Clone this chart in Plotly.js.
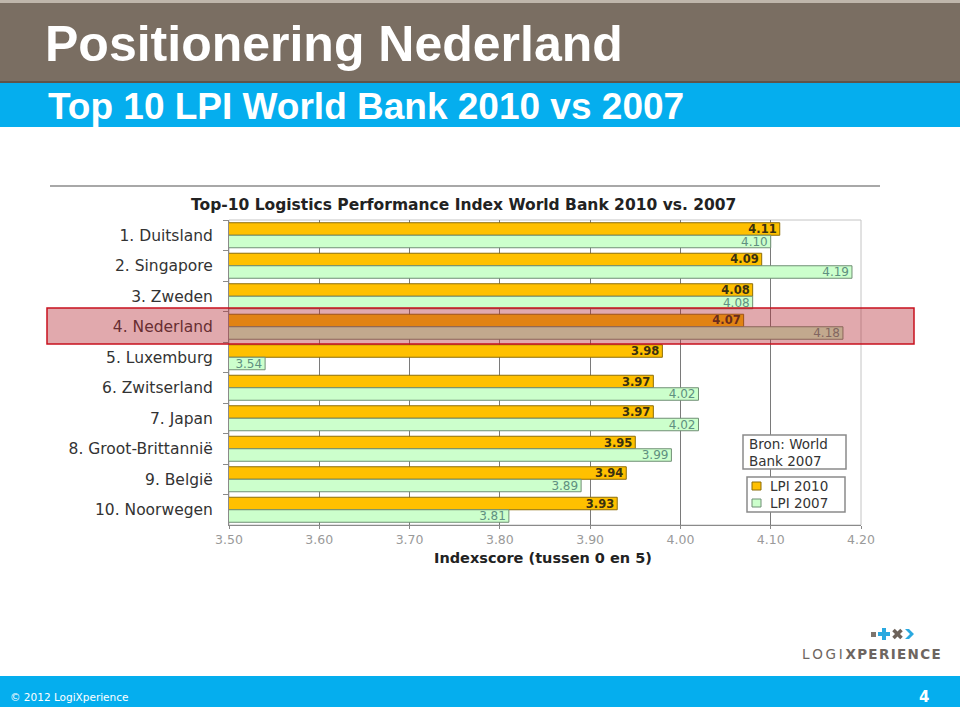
<!DOCTYPE html>
<html><head><meta charset="utf-8">
<script src="https://cdn.plot.ly/plotly-3.0.1.min.js"></script>
<style>html,body{margin:0;padding:0;background:#fff;overflow:hidden}#chart{width:960px;height:707px}</style>
</head><body><div id="chart"></div>
<script>
// ---- data ----
const countries = ['1. Duitsland','2. Singapore','3. Zweden','4. Nederland','5. Luxemburg','6. Zwitserland','7. Japan','8. Groot-Brittannië','9. België','10. Noorwegen'];
const lpi2010 = [4.11, 4.09, 4.08, 4.07, 3.98, 3.97, 3.97, 3.95, 3.94, 3.93];
const lpi2007 = [4.10, 4.19, 4.08, 4.18, 3.54, 4.02, 4.02, 3.99, 3.89, 3.81];
const seriesNames = ['LPI 2010', 'LPI 2007'];
const xTickVals = [3.50, 3.60, 3.70, 3.80, 3.90, 4.00, 4.10, 4.20];
const slideTitle = 'Positionering Nederland';
const slideSubtitle = 'Top 10 LPI World Bank 2010 vs 2007';
const chartTitle = 'Top-10 Logistics Performance Index World Bank 2010 vs. 2007';
const xAxisTitle = 'Indexscore (tussen 0 en 5)';
const sourceLines = ['Bron: World', 'Bank 2007'];
const footerText = '© 2012 LogiXperience';
const pageNumber = '4';

// ---- styles ----
const fill2010 = '#ffc000', edge2010 = '#8c6d08';
const fill2007 = '#ccffcc', edge2007 = '#6f8f74';

// ---- geometry (page pixels -> paper coords) ----
const W = 960, H = 707, L = 229, R = 861, T = 220, B = 525;
const X = px => (px - L) / (R - L);
const Y = py => (B - py) / (B - T);
const rect = (x0, y0, x1, y1, fill, line, lw, layer) => ({
  type: 'rect', xref: 'paper', yref: 'paper', x0: X(x0), x1: X(x1), y0: Y(y1), y1: Y(y0),
  fillcolor: fill, line: {color: line || 'rgba(0,0,0,0)', width: lw || 0}, layer: layer || 'below'
});
const pathShape = (pts, fill, layer) => ({
  type: 'path', xref: 'paper', yref: 'paper',
  path: 'M' + pts.map(p => X(p[0]) + ',' + Y(p[1])).join(' L') + ' Z',
  fillcolor: fill, line: {width: 0}, layer: layer || 'below'
});
const seg = (x0, y0, x1, y1, color, w, layer) => ({
  type: 'line', xref: 'paper', yref: 'paper', x0: X(x0), x1: X(x1), y0: Y(y0), y1: Y(y1),
  line: {color: color, width: w}, layer: layer || 'below'
});

const UI = 'DejaVu Sans, Verdana, sans-serif';

const traces = [
  {
    type: 'bar', orientation: 'h', name: seriesNames[0], y: countries, x: lpi2010,
    marker: {color: fill2010, line: {color: edge2010, width: 1}},
    texttemplate: '%{x:.2f}', textposition: 'inside', insidetextanchor: 'end', textangle: 0,
    constraintext: 'none',
    insidetextfont: {family: UI, size: 11.5, color: '#3a3010', weight: 'bold'},
    hoverinfo: 'skip', showlegend: false
  },
  {
    type: 'bar', orientation: 'h', name: seriesNames[1], y: countries, x: lpi2007,
    marker: {color: fill2007, line: {color: edge2007, width: 1}},
    texttemplate: '%{x:.2f}', textposition: 'inside', insidetextanchor: 'end', textangle: 0,
    constraintext: 'none',
    insidetextfont: {family: UI, size: 12, color: '#5f9080'},
    hoverinfo: 'skip', showlegend: false
  }
];

const shapes = [
  // header
  rect(0, 0, 960, 3, '#bfb6ab'),
  rect(0, 3, 960, 81, '#7a6e62'),
  rect(0, 81, 960, 83, '#5e544a'),
  rect(0, 83, 960, 127, '#05aeee'),
  // footer
  rect(0, 676, 960, 707, '#05aeee'),
  // rule above chart
  seg(50, 186, 880, 186, '#a8a8a8', 2),
  // plot frame (light)
  rect(L, T, R, B, 'rgba(0,0,0,0)', '#c4c4c4', 1, 'below'),
  // source box
  rect(743, 435, 846, 469, '#ffffff', '#8a8a8a', 1.5, 'above'),
  // legend box + swatches
  rect(747, 477, 845, 512, '#ffffff', '#8a8a8a', 1.5, 'above'),
  rect(752, 482, 761, 490, fill2010, edge2010, 1, 'above'),
  rect(752, 499, 761, 507, fill2007, edge2007, 1, 'above'),
  // highlight Nederland
  rect(47, 308, 914, 344, 'rgba(180,40,50,0.40)', '#c8101e', 1.5, 'above'),
  // logo icon
  rect(871, 632, 876, 637, '#7d756e'),
  pathShape([[882,628],[886,628],[886,632],[890,632],[890,636],[886,636],[886,640],[882,640],[882,636],[878,636],[878,632],[882,632]], '#2aa9e0'),
  seg(893.5, 630, 901.5, 638, '#6d625a', 3.5),
  seg(893.5, 638, 901.5, 630, '#6d625a', 3.5),
  pathShape([[905,629],[909,629],[914,634],[909,639],[905,639],[910,634]], '#2aa9e0')
];

const ann = (text, x, y, opts) => Object.assign({
  text: text, xref: 'paper', yref: 'paper', x: X(x), y: Y(y), showarrow: false,
  xanchor: 'left', yanchor: 'middle'
}, opts || {});

const annotations = [
  ann(slideTitle, 43, 44, {font: {family: 'Liberation Sans, Arial, sans-serif', size: 50, color: '#ffffff', weight: 'bold'}}),
  ann(slideSubtitle, 46, 106, {font: {family: 'Liberation Sans, Arial, sans-serif', size: 37, color: '#ffffff', weight: 'bold'}}),
  ann(chartTitle, 463, 205, {xanchor: 'center', font: {family: UI, size: 15.5, color: '#222222', weight: 'bold'}}),
  ann(xAxisTitle, 543, 558, {xanchor: 'center', font: {family: UI, size: 14.5, color: '#222222', weight: 'bold'}}),
  ann(sourceLines[0], 747, 444, {font: {family: UI, size: 13.5, color: '#333333'}}),
  ann(sourceLines[1], 747, 461, {font: {family: UI, size: 13.5, color: '#333333'}}),
  ann(seriesNames[0], 768, 486, {font: {family: UI, size: 13.5, color: '#333333'}}),
  ann(seriesNames[1], 768, 503, {font: {family: UI, size: 13.5, color: '#333333'}}),
  ann(footerText, 8, 697, {font: {family: UI, size: 10.5, color: '#ffffff'}}),
  ann(pageNumber, 917, 697, {font: {family: UI, size: 15, color: '#ffffff', weight: 'bold'}}),
  ann('L\u2009O\u2009G\u2009I\u2009<b>X\u200aP\u200aE\u200aR\u200aI\u200aE\u200aN\u200aC\u200aE</b>', 800, 654,
    {font: {family: UI, size: 13.5, color: '#6d6560'}})
];

const layout = {
  width: W, height: H,
  margin: {l: L, r: W - R, t: T, b: H - B, pad: 0},
  paper_bgcolor: '#ffffff', plot_bgcolor: '#ffffff',
  barmode: 'group', bargap: 0.18, bargroupgap: 0,
  showlegend: false,
  xaxis: {
    range: [3.5, 4.2], tickvals: xTickVals, tickformat: '.2f', showgrid: true,
    gridcolor: '#7a7a7a', gridwidth: 1, zeroline: false, showline: true, linecolor: '#8a8a8a',
    ticks: 'outside', ticklen: 3, tickcolor: '#8a8a8a',
    tickfont: {family: UI, size: 12.5, color: '#9a9a9a'}, fixedrange: true
  },
  yaxis: {
    type: 'category', autorange: 'reversed', showgrid: false, zeroline: false,
    showline: true, linecolor: '#8a8a8a', ticks: 'outside', tickson: 'boundaries', ticklen: 5,
    tickcolor: '#8a8a8a', ticklabelstandoff: 12,
    tickfont: {family: UI, size: 15.5, color: '#333333'}, fixedrange: true
  },
  shapes: shapes, annotations: annotations
};

Plotly.newPlot('chart', traces, layout, {staticPlot: true, displayModeBar: false});
</script></body></html>
